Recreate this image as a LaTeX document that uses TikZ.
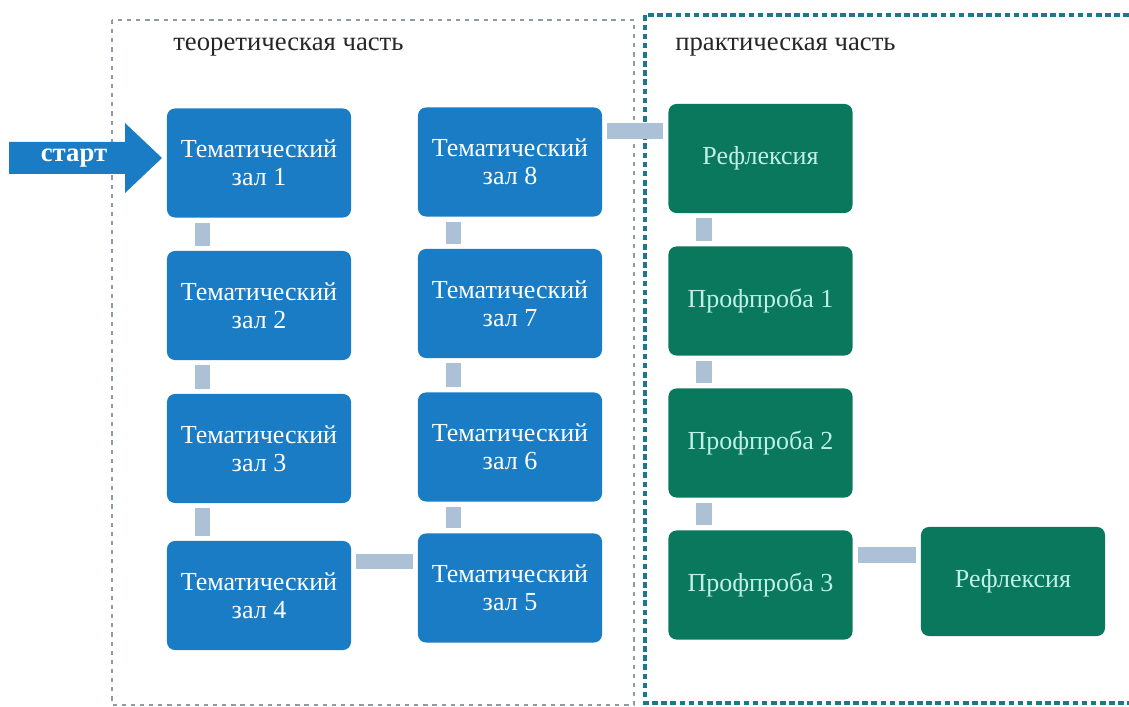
\documentclass[tikz,border=0pt]{standalone}
\usepackage{fontspec}
\setmainfont{Liberation Serif}
\definecolor{zalblue}{RGB}{26,124,196}
\definecolor{probagreen}{RGB}{10,120,92}
\definecolor{probatext}{RGB}{190,240,232}
\definecolor{linkgray}{RGB}{172,192,214}
\definecolor{framegray}{RGB}{140,155,168}
\definecolor{frameteal}{RGB}{30,120,140}
\begin{document}
\begin{tikzpicture}[x=0.025cm,y=-0.025cm,thick,
    zal/.style={rectangle,rounded corners=0.2cm,fill=zalblue,text=white,align=center,minimum width=4.6cm,minimum height=2.725cm,font=\fontsize{18.5}{20}\selectfont},
    proba/.style={zal,fill=probagreen,text=probatext},
    link/.style={draw=linkgray,line width=0.38cm,shorten <=0.12cm,shorten >=0.12cm},
    title/.style={anchor=west,text=black!85,font=\fontsize{19}{22}\selectfont}]
        \useasboundingbox (0,0) rectangle (1129,707);

        % frames of the two parts
        \draw[framegray,line width=0.9pt,dash pattern=on 3pt off 3.5pt] (112,20) rectangle (634,705);
        \draw[frameteal,line width=2.2pt,dash pattern=on 4pt off 2.5pt] (1129,15) -- (645,15) -- (645,703) -- (1129,703);
        \node[title] at (168,47) (teo) {теоретическая часть};
        \node[title] at (670,47) (prak) {практическая часть};

        % start arrow
        \fill[zalblue] (9,142) -- (125,142) -- (125,123) -- (162,158) -- (125,193) -- (125,174) -- (9,174) -- cycle;
        \node[text=white,font=\bfseries\fontsize{19}{22}\selectfont] at (74,158) (start) {старт};

        \node[zal] at (259,163) (z1) {Тематический\\зал 1};
        \node[zal] at (259,305.5) (z2) {Тематический\\зал 2};
        \node[zal] at (259,448.5) (z3) {Тематический\\зал 3};
        \node[zal] at (259,595.5) (z4) {Тематический\\зал 4};
        \node[zal] at (510,588) (z5) {Тематический\\зал 5};
        \node[zal] at (510,447) (z6) {Тематический\\зал 6};
        \node[zal] at (510,303.5) (z7) {Тематический\\зал 7};
        \node[zal] at (510,162) (z8) {Тематический\\зал 8};
        \node[proba] at (760.5,158.5) (r1) {Рефлексия};
        \node[proba] at (760.5,301) (p1) {Профпроба 1};
        \node[proba] at (760.5,443) (p2) {Профпроба 2};
        \node[proba] at (760.5,585) (p3) {Профпроба 3};
        \node[proba] at (1013,581.5) (r2) {Рефлексия};

        \coordinate (h1) at ([yshift=-0.525cm]z4.north east);
        \coordinate (h2) at ([yshift=-0.6cm]z8.north east);
        \coordinate (h3) at ([yshift=-0.625cm]p3.north east);

        \path
            ([xshift=0.9cm]z1.south west) edge[link] ([xshift=0.9cm]z2.north west)
            ([xshift=0.9cm]z2.south west) edge[link] ([xshift=0.9cm]z3.north west)
            ([xshift=0.9cm]z3.south west) edge[link] ([xshift=0.9cm]z4.north west)
            (h1) edge[link] (h1 -| z5.west)
            ([xshift=0.9cm]z5.north west) edge[link] ([xshift=0.9cm]z6.south west)
            ([xshift=0.9cm]z6.north west) edge[link] ([xshift=0.9cm]z7.south west)
            ([xshift=0.9cm]z7.north west) edge[link] ([xshift=0.9cm]z8.south west)
            (h2) edge[link] (h2 -| r1.west)
            ([xshift=0.9cm]r1.south west) edge[link] ([xshift=0.9cm]p1.north west)
            ([xshift=0.9cm]p1.south west) edge[link] ([xshift=0.9cm]p2.north west)
            ([xshift=0.9cm]p2.south west) edge[link] ([xshift=0.9cm]p3.north west)
            (h3) edge[link] (h3 -| r2.west)
            ;
\end{tikzpicture}
\end{document}
